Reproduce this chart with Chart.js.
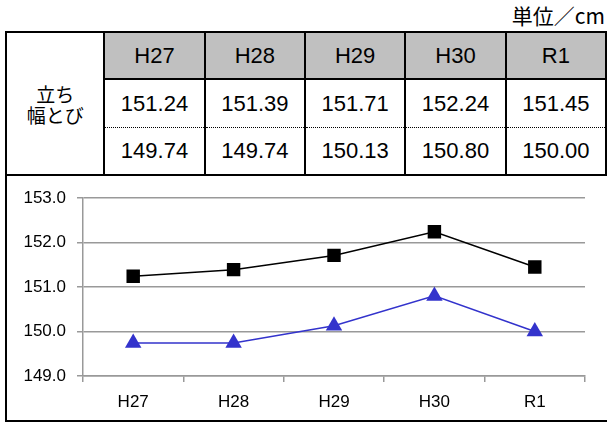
<!DOCTYPE html>
<html>
<head>
<meta charset="utf-8">
<script src="https://cdn.jsdelivr.net/npm/chart.js@4"></script>
<style>
  html, body { margin: 0; padding: 0; background: #fff; }
  #page { position: relative; width: 607px; height: 423px; overflow: hidden; font-family: "Liberation Sans", Arial, "Noto Sans CJK JP", sans-serif; }
  #unit { position: absolute; right: 2px; top: 0px; font-size: 21px; white-space: nowrap; font-family: "Noto Sans CJK JP", sans-serif; color: #000; }
  #tbl { position: absolute; left: 5px; top: 31px; border-collapse: collapse; table-layout: fixed; }
  #tbl td { border: 2px solid #000; text-align: center; font-size: 22px; padding: 0; color: #000; }
  #tbl .hd td.h { background: #c0c0c0; height: 45px; }
  #tbl .r1 td { height: 47px; border-bottom: 1px dotted #000; }
  #tbl .r2 td { height: 46px; border-top: 1px dotted #000; }
  #tbl td.lab { font-family: "Noto Sans CJK JP", sans-serif; font-size: 19px; line-height: 21px; }
  #box { position: absolute; left: 5px; top: 175px; width: 620px; height: 245px; border-left: 2px solid #000; border-bottom: 2px solid #000; }
  #wrap { position: absolute; left: 1px; top: 1px; width: 601px; height: 244px; }
</style>
</head>
<body>
<div id="page">
  <div id="unit">単位／cm</div>
  <table id="tbl">
    <colgroup><col style="width:102px"><col style="width:101.8px"><col style="width:101.8px"><col style="width:101.8px"><col style="width:101.8px"><col style="width:101.8px"></colgroup>
    <tbody id="tbody"></tbody>
  </table>
  <div id="box"><div id="wrap"><canvas id="chart"></canvas></div></div>
</div>
<script>
const categories = ['H27', 'H28', 'H29', 'H30', 'R1'];
const rowLabel = ['立ち', '幅とび'];
const boysValues = [151.24, 151.39, 151.71, 152.24, 151.45];
const girlsValues = [149.74, 149.74, 150.13, 150.80, 150.00];
const yTicks = [149, 150, 151, 152, 153];

// table
const tbody = document.getElementById('tbody');
let html = '<tr class="hd"><td class="lab" rowspan="3">' + rowLabel.join('<br>') + '</td>';
categories.forEach(c => { html += '<td class="h">' + c + '</td>'; });
html += '</tr><tr class="r1">';
boysValues.forEach(v => { html += '<td>' + v.toFixed(2) + '</td>'; });
html += '</tr><tr class="r2">';
girlsValues.forEach(v => { html += '<td>' + v.toFixed(2) + '</td>'; });
html += '</tr>';
tbody.innerHTML = html;

const tickFont = { size: 17, family: '"Liberation Sans", Arial, sans-serif' };

const ctx = document.getElementById('chart').getContext('2d');
new Chart(ctx, {
  type: 'line',
  data: {
    labels: categories,
    datasets: [
      {
        data: boysValues,
        borderColor: '#000',
        backgroundColor: '#000',
        borderWidth: 1.5,
        pointStyle: 'rect',
        pointRadius: 9.5,
        pointBorderWidth: 0,
        tension: 0
      },
      {
        data: girlsValues,
        borderColor: '#3333cc',
        backgroundColor: '#3333cc',
        borderWidth: 1.5,
        pointStyle: 'triangle',
        pointRadius: 9.5,
        pointBorderWidth: 0,
        tension: 0
      }
    ]
  },
  options: {
    responsive: true,
    maintainAspectRatio: false,
    animation: false,
    layout: { padding: { top: 22, right: 24, left: 0, bottom: 0 } },
    plugins: { legend: { display: false }, tooltip: { enabled: false } },
    scales: {
      x: {
        offset: true,
        grid: { offset: true, drawOnChartArea: false, drawTicks: true, tickLength: 6, color: '#999', lineWidth: 1.5 },
        border: { color: '#999', width: 1.5 },
        ticks: { color: '#000', font: tickFont, padding: 10, maxRotation: 0 },
        afterFit: s => { s.height = 44; }
      },
      y: {
        min: 149,
        max: 153,
        afterBuildTicks: s => { s.ticks = yTicks.map(v => ({ value: v })); },
        grid: { color: '#999', lineWidth: 1.5, drawTicks: true, tickLength: 6 },
        border: { color: '#999', width: 1.5 },
        ticks: { color: '#000', font: tickFont, padding: 11, callback: v => Number(v).toFixed(1) },
        afterFit: s => { s.width = 75; }
      }
    }
  }
});
</script>
</body>
</html>
